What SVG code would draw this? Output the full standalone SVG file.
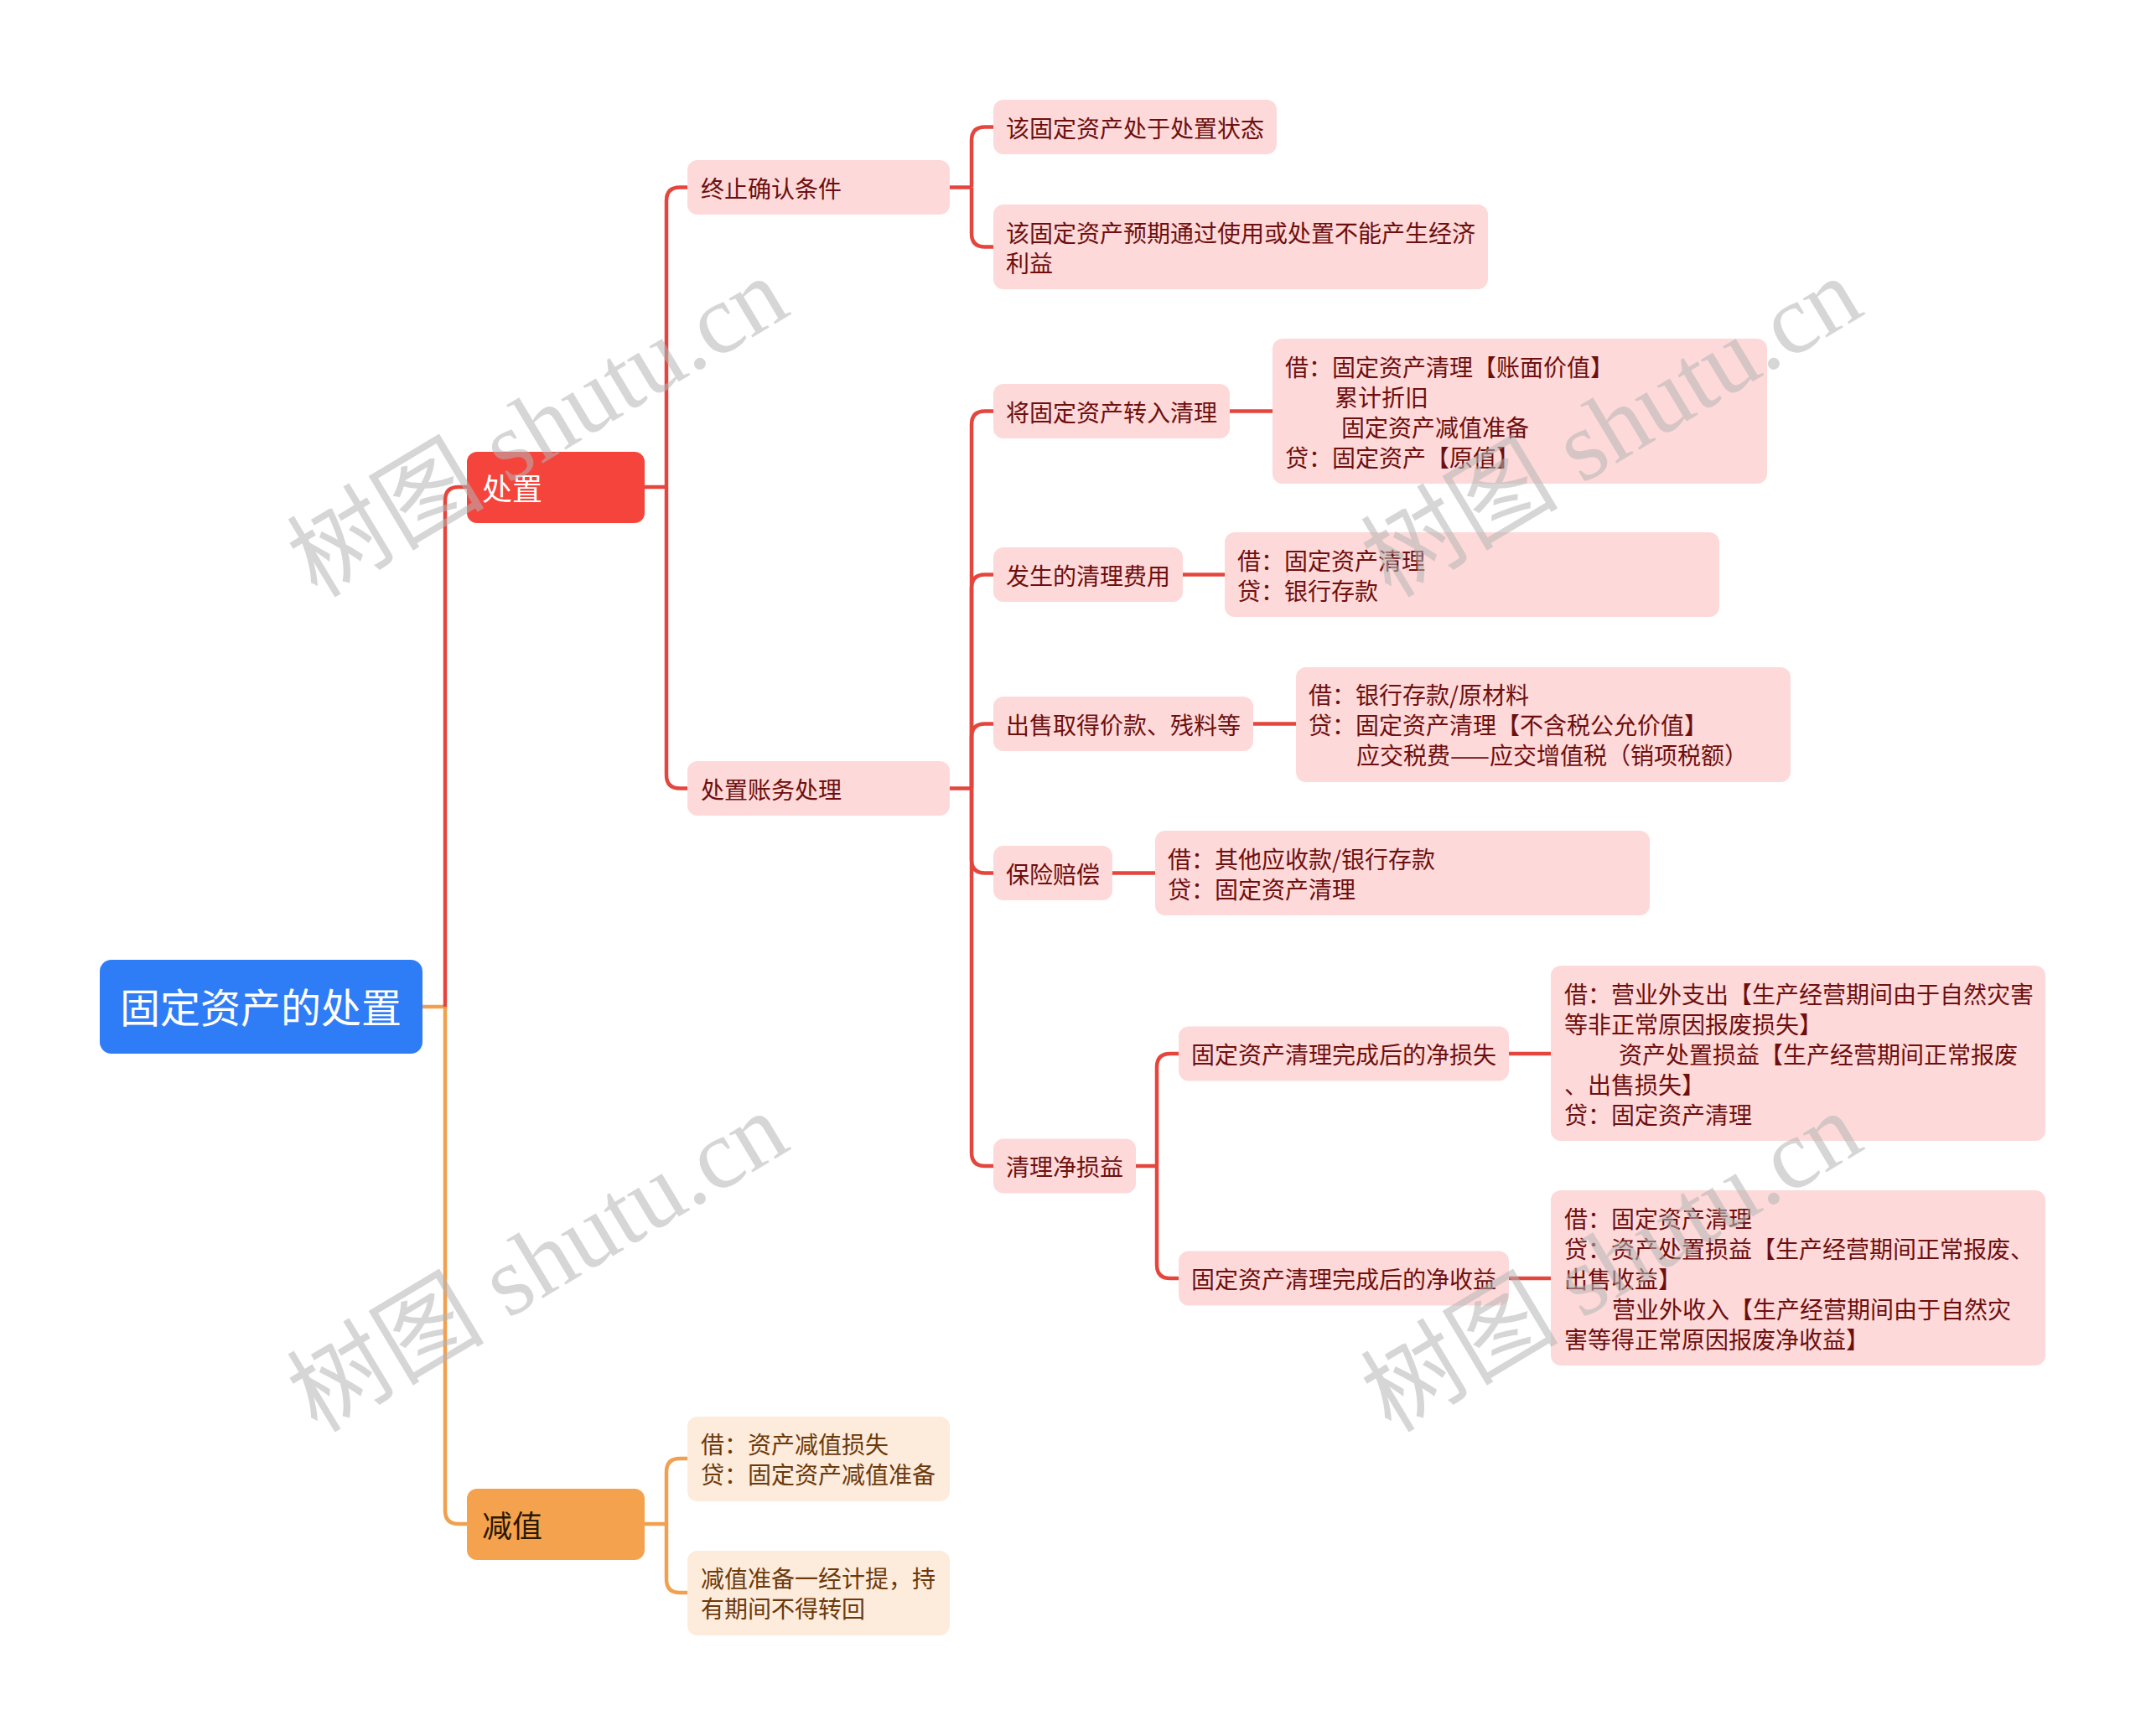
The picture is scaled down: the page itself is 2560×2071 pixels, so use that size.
<svg xmlns="http://www.w3.org/2000/svg" width="2560" height="2071" viewBox="0 0 2560 2071">
<style>
text{font-family:"Noto Sans CJK SC","Microsoft YaHei",sans-serif}
.red{fill:none;stroke:#e4463e;stroke-width:4.5}
.org{fill:none;stroke:#f0a150;stroke-width:4.5}
.pn{fill:#fdd9d9}
.on{fill:#fdebdc}
.pt{fill:#6e0f0f;font-size:28px}
.ot{fill:#6b3a0c;font-size:28px}
.wm{font-family:"Liberation Serif","Noto Sans CJK SC",serif;font-size:118px;fill:#b4b4b4;fill-opacity:0.55}
</style>
<rect width="2560" height="2071" fill="#ffffff"/>
<g id="connectors">
<path class="org" d="M504,1201 H531"/>
<path class="red" d="M531,1201 V597 Q531,581 547,581 H557"/>
<path class="org" d="M531,1201 V1802 Q531,1818 547,1818 H557"/>
<path class="red" d="M769,581 H795"/>
<path class="red" d="M795,581 V239.5 Q795,223.5 811,223.5 H820"/>
<path class="red" d="M795,581 V924.5 Q795,940.5 811,940.5 H820"/>
<path class="red" d="M1133,223.5 H1159"/>
<path class="red" d="M1159,223.5 V167.5 Q1159,151.5 1175,151.5 H1185"/>
<path class="red" d="M1159,223.5 V278.5 Q1159,294.5 1175,294.5 H1185"/>
<path class="red" d="M1133,940.5 H1159"/>
<path class="red" d="M1159,940.5 V506.5 Q1159,490.5 1175,490.5 H1185"/>
<path class="red" d="M1159,940.5 V701.5 Q1159,685.5 1175,685.5 H1185"/>
<path class="red" d="M1159,940.5 V879.5 Q1159,863.5 1175,863.5 H1185"/>
<path class="red" d="M1159,940.5 V1025.5 Q1159,1041.5 1175,1041.5 H1185"/>
<path class="red" d="M1159,940.5 V1375 Q1159,1391 1175,1391 H1185"/>
<path class="red" d="M1467,490.5 H1518"/>
<path class="red" d="M1411,685.5 H1461"/>
<path class="red" d="M1495,863.5 H1546"/>
<path class="red" d="M1327,1041.5 H1378"/>
<path class="red" d="M1355,1391 H1380"/>
<path class="red" d="M1380,1391 V1273 Q1380,1257 1396,1257 H1406"/>
<path class="red" d="M1380,1391 V1509 Q1380,1525 1396,1525 H1406"/>
<path class="red" d="M1800,1257 H1850"/>
<path class="red" d="M1800,1525 H1850"/>
<path class="org" d="M769,1818 H795"/>
<path class="org" d="M795,1818 V1756 Q795,1740 811,1740 H820"/>
<path class="org" d="M795,1818 V1884 Q795,1900 811,1900 H820"/>
</g>
<g id="root">
<rect x="119" y="1145" width="385" height="112" rx="14" fill="#2f7df6"/>
<text x="311" y="1220" text-anchor="middle" style="font-size:48px;fill:#ffffff">固定资产的处置</text>
</g>
<g id="n-chuzhi">
<rect x="557" y="539" width="212" height="85" rx="12" fill="#f5443c"/>
<text x="575" y="597" style="font-size:36px;fill:#ffffff">处置</text>
</g>
<g id="n-jianzhi">
<rect x="557" y="1776" width="212" height="85" rx="12" fill="#f5a24f"/>
<text x="575" y="1834" style="font-size:36px;fill:#2b1800">减值</text>
</g>
<g id="n-zhongzhi">
<rect class="pn" x="820" y="191" width="313" height="65" rx="12"/>
<text class="pt" x="836" y="235.5">终止确认条件</text>
</g>
<g id="n-zhangwu">
<rect class="pn" x="820" y="908" width="313" height="65" rx="12"/>
<text class="pt" x="836" y="952.5">处置账务处理</text>
</g>
<g id="n-zhuangtai">
<rect class="pn" x="1185" y="119" width="338" height="65" rx="12"/>
<text class="pt" x="1200" y="163.5">该固定资产处于处置状态</text>
</g>
<g id="n-yuqi">
<rect class="pn" x="1185" y="244" width="590" height="101" rx="12"/>
<text class="pt" x="1200" y="288.5">该固定资产预期通过使用或处置不能产生经济</text>
<text class="pt" x="1200" y="324.5">利益</text>
</g>
<g id="n-zhuanru">
<rect class="pn" x="1185" y="458" width="282" height="65" rx="12"/>
<text class="pt" x="1200" y="502.5">将固定资产转入清理</text>
</g>
<g id="n-zhuanru-entry">
<rect class="pn" x="1518" y="404" width="590" height="173" rx="12"/>
<text class="pt" x="1533" y="448.5">借：固定资产清理【账面价值】</text>
<text class="pt" x="1592" y="484.5">累计折旧</text>
<text class="pt" x="1600" y="520.5">固定资产减值准备</text>
<text class="pt" x="1533" y="556.5">贷：固定资产【原值】</text>
</g>
<g id="n-feiyong">
<rect class="pn" x="1185" y="653" width="226" height="65" rx="12"/>
<text class="pt" x="1200" y="697.5">发生的清理费用</text>
</g>
<g id="n-feiyong-entry">
<rect class="pn" x="1461" y="635" width="590" height="101" rx="12"/>
<text class="pt" x="1476" y="679.5">借：固定资产清理</text>
<text class="pt" x="1476" y="715.5">贷：银行存款</text>
</g>
<g id="n-chushou">
<rect class="pn" x="1185" y="831" width="310" height="65" rx="12"/>
<text class="pt" x="1200" y="875.5">出售取得价款、残料等</text>
</g>
<g id="n-chushou-entry">
<rect class="pn" x="1546" y="796" width="590" height="137" rx="12"/>
<text class="pt" x="1561" y="839.5">借：银行存款/原材料</text>
<text class="pt" x="1561" y="875.5">贷：固定资产清理【不含税公允价值】</text>
<text class="pt" x="1618" y="911.5">应交税费——应交增值税（销项税额）</text>
</g>
<g id="n-baoxian">
<rect class="pn" x="1185" y="1009" width="142" height="65" rx="12"/>
<text class="pt" x="1200" y="1053.5">保险赔偿</text>
</g>
<g id="n-baoxian-entry">
<rect class="pn" x="1378" y="991" width="590" height="101" rx="12"/>
<text class="pt" x="1393" y="1035.5">借：其他应收款/银行存款</text>
<text class="pt" x="1393" y="1071.5">贷：固定资产清理</text>
</g>
<g id="n-sunyi">
<rect class="pn" x="1185" y="1358.5" width="170" height="65" rx="12"/>
<text class="pt" x="1200" y="1403">清理净损益</text>
</g>
<g id="n-sunshi">
<rect class="pn" x="1406" y="1224.5" width="394" height="65" rx="12"/>
<text class="pt" x="1421" y="1269">固定资产清理完成后的净损失</text>
</g>
<g id="n-sunshi-entry">
<rect class="pn" x="1850" y="1152" width="590" height="209" rx="12"/>
<text class="pt" x="1866" y="1197">借：营业外支出【生产经营期间由于自然灾害</text>
<text class="pt" x="1866" y="1233">等非正常原因报废损失】</text>
<text class="pt" x="1931" y="1269">资产处置损益【生产经营期间正常报废</text>
<text class="pt" x="1866" y="1305">、出售损失】</text>
<text class="pt" x="1866" y="1341">贷：固定资产清理</text>
</g>
<g id="n-shouyi">
<rect class="pn" x="1406" y="1492.5" width="394" height="65" rx="12"/>
<text class="pt" x="1421" y="1537">固定资产清理完成后的净收益</text>
</g>
<g id="n-shouyi-entry">
<rect class="pn" x="1850" y="1420" width="590" height="209" rx="12"/>
<text class="pt" x="1866" y="1465">借：固定资产清理</text>
<text class="pt" x="1866" y="1501">贷：资产处置损益【生产经营期间正常报废、</text>
<text class="pt" x="1866" y="1537">出售收益】</text>
<text class="pt" x="1923" y="1573">营业外收入【生产经营期间由于自然灾</text>
<text class="pt" x="1866" y="1609">害等得正常原因报废净收益】</text>
</g>
<g id="n-jianzhi-entry">
<rect class="on" x="820" y="1690" width="313" height="101" rx="12"/>
<text class="ot" x="836" y="1734">借：资产减值损失</text>
<text class="ot" x="836" y="1770">贷：固定资产减值准备</text>
</g>
<g id="n-jianzhi-note">
<rect class="on" x="820" y="1850" width="313" height="101" rx="12"/>
<text class="ot" x="836" y="1894">减值准备一经计提，持</text>
<text class="ot" x="836" y="1930">有期间不得转回</text>
</g>
<g id="watermarks">
<text class="wm" x="0" y="0" text-anchor="middle" transform="translate(662,544) rotate(-31)">树图 shutu.cn</text>
<text class="wm" x="0" y="0" text-anchor="middle" transform="translate(662,1540) rotate(-31)">树图 shutu.cn</text>
<text class="wm" x="0" y="0" text-anchor="middle" transform="translate(1943,544) rotate(-31)">树图 shutu.cn</text>
<text class="wm" x="0" y="0" text-anchor="middle" transform="translate(1943,1540) rotate(-31)">树图 shutu.cn</text>
</g>
</svg>
